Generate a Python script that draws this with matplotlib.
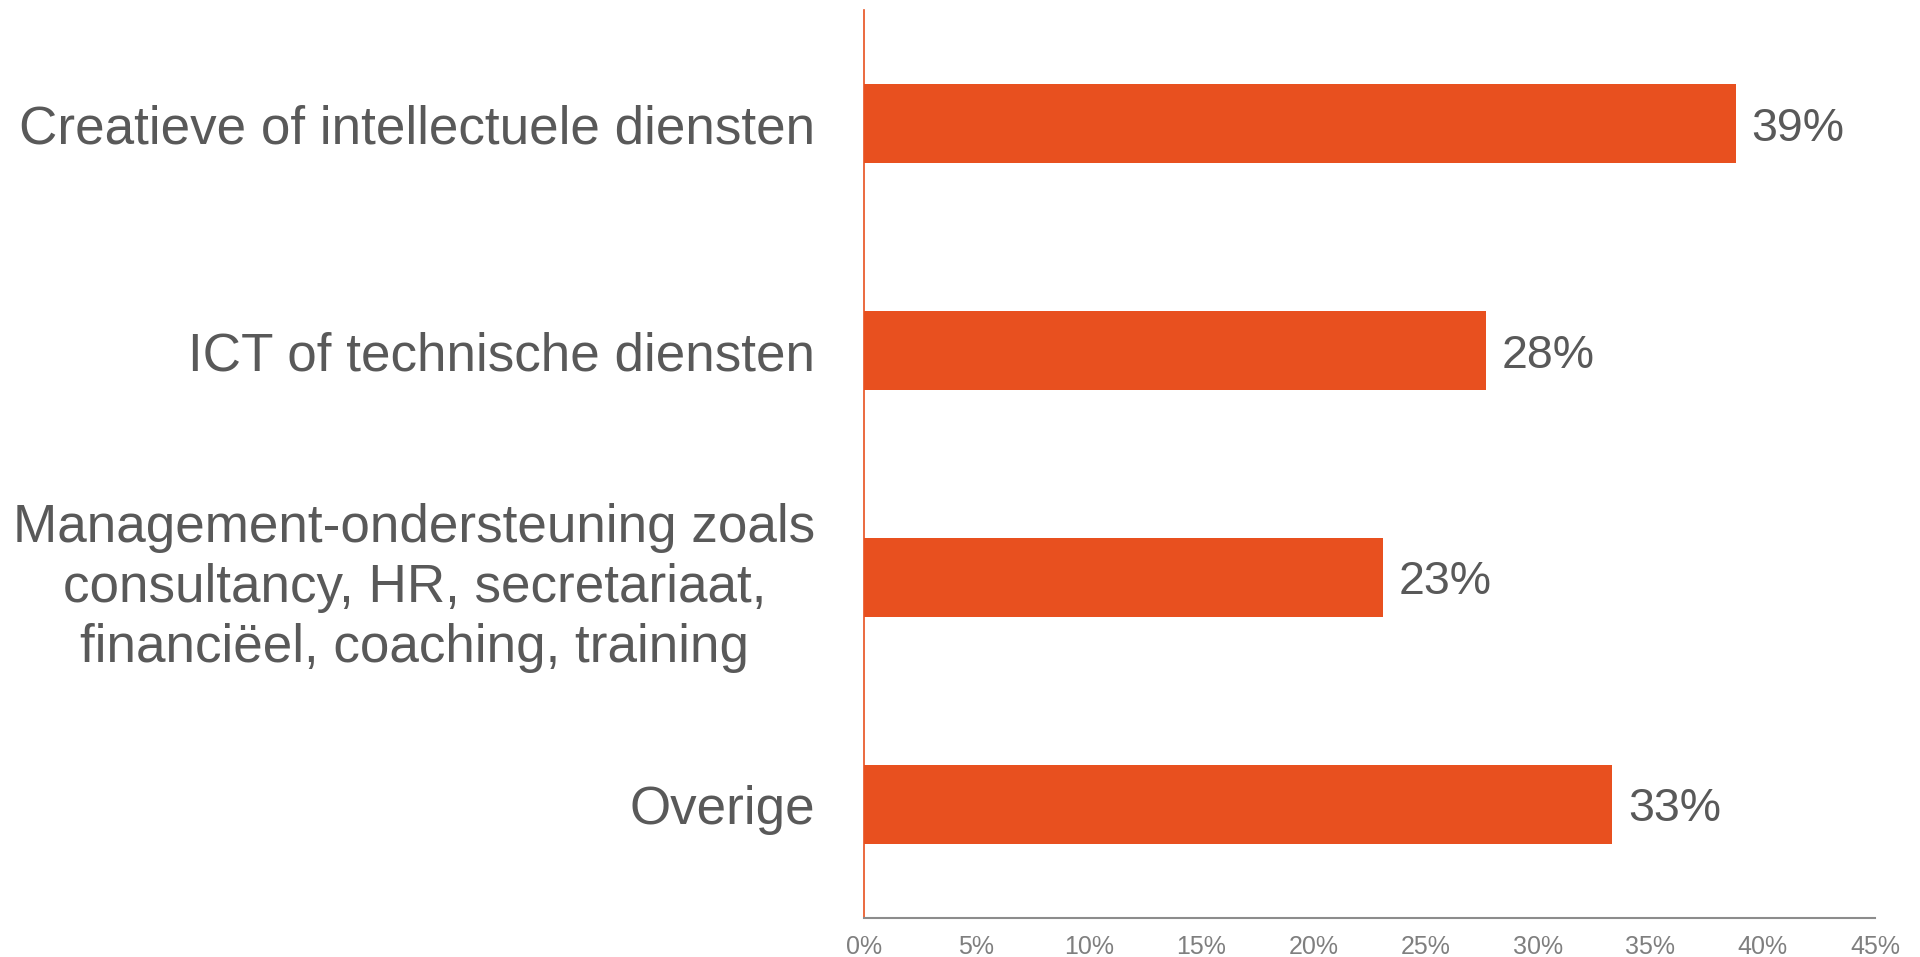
import matplotlib.pyplot as plt
from matplotlib.ticker import PercentFormatter

# data
categories = [
    "Creatieve of intellectuele diensten",
    "ICT of technische diensten",
    "Management-ondersteuning zoals\nconsultancy, HR, secretariaat,\nfinanciëel, coaching, training",
    "Overige",
]
values = [38.8, 27.7, 23.1, 33.3]
value_labels = ["39%", "28%", "23%", "33%"]
xticks = [0, 5, 10, 15, 20, 25, 30, 35, 40, 45]

bar_color = "#E8501F"
text_color = "#595959"

plt.rcParams['font.family'] = ['Liberation Sans', 'DejaVu Sans']

fig = plt.figure(figsize=(19.2, 9.57), dpi=100)
ax = fig.add_axes([0.45, 0.0408, 0.5266, 0.9487])

ypos = list(range(len(categories)))
bars = ax.barh(ypos, values, height=0.35, color=bar_color)

ax.set_ylim(3.5, -0.5)
ax.set_xlim(0, 45)
ax.set_xticks(xticks)
ax.xaxis.set_major_formatter(PercentFormatter(decimals=0))

ax.set_yticks(ypos)
ax.set_yticklabels(categories, fontsize=38.2, color=text_color,
                   multialignment='center', linespacing=1.25)
ax.tick_params(axis='y', length=0, pad=35)
ax.tick_params(axis='x', length=0, pad=12, labelsize=18, labelcolor="#7F7F7F")
for lbl in ax.get_xticklabels():
    lbl.set_family(['Liberation Sans Narrow', 'Liberation Sans'])

# value labels
for b, txt in zip(bars, value_labels):
    ax.text(b.get_width() + 0.7, b.get_y() + b.get_height() / 2, txt,
            va='center_baseline', ha='left', fontsize=33.5, color=text_color)

for s in ['top', 'right']:
    ax.spines[s].set_visible(False)
ax.spines['left'].set_color(bar_color)
ax.spines['left'].set_linewidth(1.2)
ax.spines['bottom'].set_color("#8C8C8C")
ax.spines['bottom'].set_linewidth(1.5)

plt.savefig('out.png', dpi=100)
